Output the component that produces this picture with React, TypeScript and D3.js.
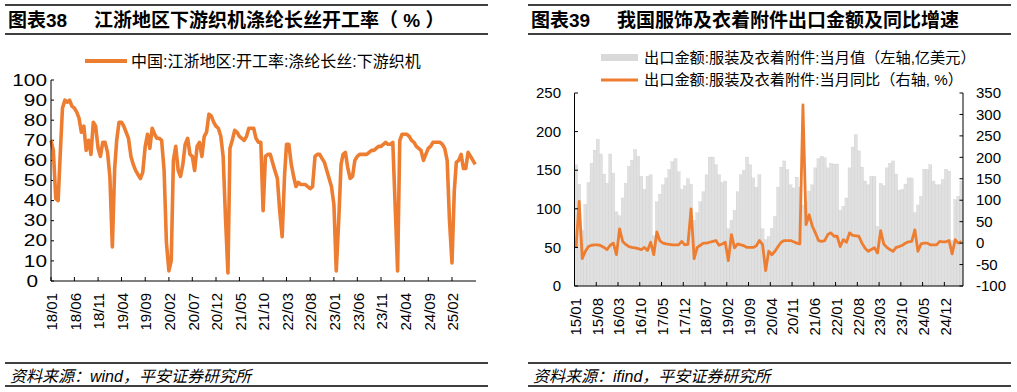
import React from 'react'
import * as d3 from 'd3'

// 图表38 江浙织机开工率, 半月一个点, 2018-01 起
const rateValues = [
  70, 65, 41, 40, 62, 86, 90, 89, 90, 87, 86, 84, 81, 74, 77, 65, 70, 63, 79, 77, 66, 62, 69, 69,
  64, 52, 17, 56, 70, 79, 79, 77, 74, 71, 62, 58, 55, 53, 51, 54, 67, 73, 66, 76, 73, 71, 71, 70,
  55, 19, 5, 10, 60, 67, 55, 52, 58, 68, 71, 63, 62, 55, 67, 69, 62, 72, 74, 83, 82, 79, 77, 76,
  72, 62, 30, 4, 66, 70, 75, 74, 72, 71, 70, 72, 76, 76, 76, 71, 69, 69, 35, 62, 63, 63, 59, 55,
  51, 35, 22, 52, 68, 68, 58, 52, 47, 49, 48, 48, 48, 47, 46, 47, 62, 63, 63, 61, 59, 55, 51, 47,
  38, 5, 30, 58, 63, 64, 56, 51, 52, 60, 62, 63, 63, 63, 63, 64, 65, 65, 66, 67, 67, 68, 69, 68,
  68, 69, 36, 5, 70, 73, 73, 73, 72, 70, 69, 67, 66, 65, 60, 63, 66, 67, 69, 69, 69, 69, 68, 66,
  60, 30, 9, 45, 59, 60, 63, 56, 56, 64, 62, 60, 58,
]
const rateTicks = ['18/01', '18/06', '18/11', '19/04', '19/09', '20/02', '20/07', '20/12', '21/05',
  '21/10', '22/03', '22/08', '23/01', '23/06', '23/11', '24/04', '24/09', '25/02']
const rateYTicks = [0, 10, 20, 30, 40, 50, 60, 70, 80, 90, 100]

// 图表39 服装及衣着附件出口, 月度, 2015-01 至 2025-05
const exportValues = [
  157, 132, 72, 106, 134, 159, 176, 190, 171, 145, 133, 171,
  146, 96, 91, 114, 133, 155, 163, 177, 168, 142, 125, 142,
  144, 65, 109, 119, 131, 140, 151, 161, 165, 148, 125, 130,
  139, 132, 85, 95, 109, 122, 144, 167, 167, 157, 144, 134,
  136, 74, 85, 98, 122, 144, 150, 167, 157, 140, 128, 144,
  74, 60, 64, 75, 90, 128, 154, 162, 151, 131, 127, 141,
  128, 105, 110, 123, 131, 153, 165, 168, 166, 153, 159, 158,
  158, 98, 103, 114, 153, 180, 196, 175, 154, 136, 131, 142,
  142, 77, 133, 130, 153, 159, 162, 145, 124, 125, 132, 140,
  140, 95, 105, 116, 151, 151, 157, 136, 131, 131, 138, 151,
  149, 59, 112, 116, 136,
]
const exportYoY = [
  -11, 97, -36, -19, -8, -5, -4, -4, -6, -10, -15, -5,
  0, -27, 33, 4, -3, -8, -10, -11, -13, -15, -10, -17,
  2, -27, 26, 5, 0, -2, -3, -4, -4, -4, 4, -4,
  -3, 80, -36, -10, -5, 0, 0, 2, 4, 6, -5, -2,
  2, -41, 20, -11, -2, -4, -6, -10, -10, -10, -6, 6,
  -3, -64, -19, -27, -19, -8, 2, 6, 6, 6, 3, 0,
  -2, 322, 43, 66, 40, 24, 6, 4, 6, 20, 24, 16,
  16, -8, 8, 2, 24, 18, 17, 16, 0, -12, -19, -15,
  -11, -23, 29, -2, -10, -15, -19, -10, -8, -5, 0, 3,
  4, 31, -19, -2, 0, 0, -4, -4, -4, 4, 3, 3,
  6, -25, 8, 0, 4,
]
const exportTicks = ['15/01', '15/08', '16/03', '16/10', '17/05', '17/12', '18/07', '19/02', '19/09',
  '20/04', '20/11', '21/06', '22/01', '22/08', '23/03', '23/10', '24/05', '24/12']
const exportLeftTicks = [0, 50, 100, 150, 200, 250]
const exportRightTicks = [-100, -50, 0, 50, 100, 150, 200, 250, 300, 350]

const FONT = "'Liberation Sans', Arial, 'Noto Sans CJK SC', sans-serif"
const ORANGE = '#ED7D31'

const rateDate = (i: number) => new Date(2018, Math.floor(i / 2), i % 2 ? 16 : 1)
const labelDate = (s: string) => {
  const [yy, mm] = s.split('/').map(Number)
  return new Date(2000 + yy, mm - 1, 1)
}

const Frame = ({ x0, x1, title, no, source }) => (
  <g>
    <line x1={x0} x2={x1} y1={5} y2={5} stroke="#000" strokeWidth={1.3} />
    <line x1={x0} x2={x1} y1={34} y2={34} stroke="#000" strokeWidth={1.3} />
    <text x={x0 + 3} y={27} fontSize={19} fontWeight="bold">{no}</text>
    <text x={x0 + 89} y={27} fontSize={19} fontWeight="bold">{title}</text>
    <line x1={x0} x2={x1} y1={363} y2={363} stroke="#000" strokeWidth={1.3} />
    <text x={x0 + 5} y={382} fontSize={16} fontStyle="italic">{source}</text>
    <line x1={x0} x2={x1} y1={386} y2={386} stroke="#000" strokeWidth={1.3} />
  </g>
)

const RateChart = () => {
  const x = d3.scaleTime().domain([new Date(2018, 0, 1), new Date(2025, 6, 6)]).range([51, 476])
  const y = d3.scaleLinear().domain([0, 100]).range([281, 80])
  const path = d3.line<number>().x((d, i) => x(rateDate(i))).y(d => y(d))(rateValues)
  return (
    <g>
      <Frame x0={5} x1={488} no="图表38" title="江浙地区下游织机涤纶长丝开工率（ % ）" source="资料来源：wind，平安证券研究所" />
      <line x1={85} x2={127} y1={61} y2={61} stroke={ORANGE} strokeWidth={4} />
      <text x={131} y={61} dy="0.35em" fontSize={16}>中国:江浙地区:开工率:涤纶长丝:下游织机</text>
      {rateYTicks.map(t => (
        <g key={t}>
          <line x1={51} x2={54} y1={y(t)} y2={y(t)} stroke="#000" />
          {/* the zero label sits further left in the original */}
          <text transform={`translate(${t === 0 ? 38 : 47},${y(t)}) scale(1.3,1)`} dy="0.35em" textAnchor="end" fontSize={16}>{t}</text>
        </g>
      ))}
      {rateTicks.map(t => {
        const tx = x(labelDate(t))
        return (
          <g key={t}>
            <line x1={tx} x2={tx} y1={281} y2={277} stroke="#000" />
            <text transform={`translate(${tx + 1},293) rotate(-90)`} dy="0.35em" textAnchor="end" fontSize={15}>{t}</text>
          </g>
        )
      })}
      <path d={path} fill="none" stroke={ORANGE} strokeWidth={3.6} strokeLinejoin="round" />
      <line x1={51} x2={51} y1={80} y2={281} stroke="#000" />
      <line x1={51} x2={476} y1={281} y2={281} stroke="#000" />
    </g>
  )
}

const ExportChart = () => {
  const x = d3.scaleBand<number>().domain(d3.range(exportValues.length)).range([574.5, 963])
  const yl = d3.scaleLinear().domain([0, 250]).range([286, 93])
  const yr = d3.scaleLinear().domain([-100, 350]).range([286, 93])
  const path = d3.line<number>().x((d, i) => x(i) + x.bandwidth() / 2).y(d => yr(d))(exportYoY)
  const tickIndex = (s: string) => {
    const [yy, mm] = s.split('/').map(Number)
    return (yy - 15) * 12 + mm - 1
  }
  return (
    <g>
      <Frame x0={528} x1={1011} no="图表39" title="我国服饰及衣着附件出口金额及同比增速" source="资料来源：ifind，平安证券研究所" />
      <rect x={601} y={54} width={37} height={7} fill="#d9d9d9" />
      <text x={644} y={57.5} dy="0.35em" fontSize={15.2}>出口金额:服装及衣着附件:当月值（左轴,亿美元）</text>
      <line x1={601} x2={638} y1={80} y2={80} stroke={ORANGE} strokeWidth={3} />
      <text x={644} y={80} dy="0.35em" fontSize={15.2}>出口金额:服装及衣着附件:当月同比（右轴, %）</text>
      {exportValues.map((v, i) => (
        <rect key={i} x={x(i)} y={yl(v)} width={x.bandwidth()} height={286 - yl(v)}
          fill="#e0e0e0" stroke="#c4c4c4" strokeWidth={0.25} />
      ))}
      <path d={path} fill="none" stroke={ORANGE} strokeWidth={2.8} strokeLinejoin="round" />
      {exportLeftTicks.map(t => (
        <g key={t}>
          <line x1={574.5} x2={578} y1={yl(t)} y2={yl(t)} stroke="#000" />
          <text x={561} y={yl(t)} dy="0.35em" textAnchor="end" fontSize={15}>{t}</text>
        </g>
      ))}
      {exportRightTicks.map(t => (
        <g key={t}>
          <line x1={959.5} x2={963} y1={yr(t)} y2={yr(t)} stroke="#000" />
          <text x={976} y={yr(t)} dy="0.35em" fontSize={15}>{t}</text>
        </g>
      ))}
      {exportTicks.map(t => {
        const tx = x(tickIndex(t))
        return (
          <g key={t}>
            <line x1={tx} x2={tx} y1={286} y2={282} stroke="#000" />
            <text transform={`translate(${tx + 1},298) rotate(-90)`} dy="0.35em" textAnchor="end" fontSize={15}>{t}</text>
          </g>
        )
      })}
      <line x1={574.5} x2={574.5} y1={93} y2={286} stroke="#000" />
      <line x1={963} x2={963} y1={93} y2={286} stroke="#000" />
      <line x1={574.5} x2={963} y1={286} y2={286} stroke="#000" />
    </g>
  )
}

export default function App() {
  return (
    <svg width={1017} height={392} fontFamily={FONT}
      style={{ position: 'absolute', left: 0, top: 0, background: '#fff' }}>
      <rect width={1017} height={392} fill="#fff" />
      <RateChart />
      <ExportChart />
    </svg>
  )
}
